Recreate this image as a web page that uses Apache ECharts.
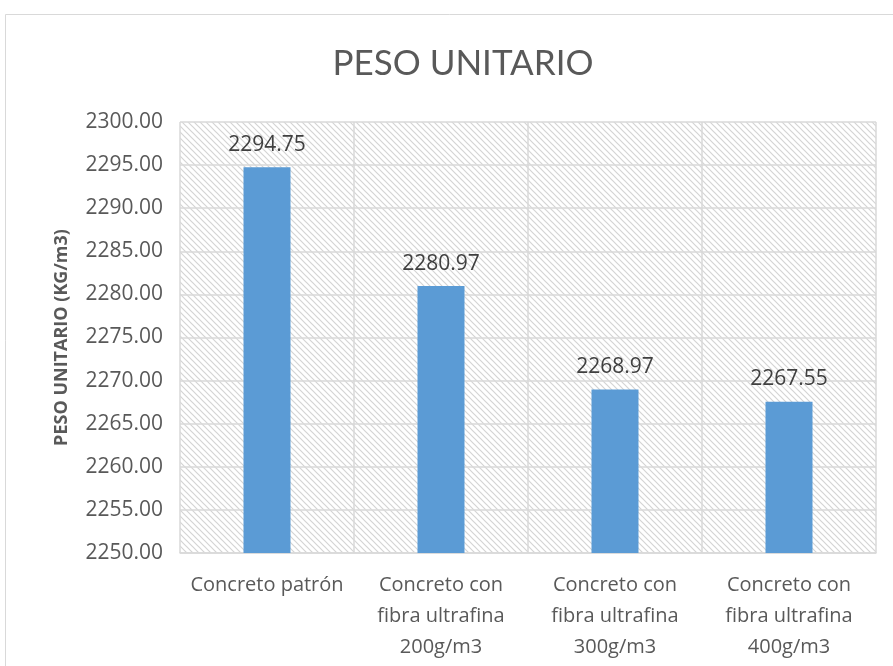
<!DOCTYPE html>
<html><head><meta charset="utf-8">
<script src="https://cdn.jsdelivr.net/npm/echarts@6/dist/echarts.min.js"></script>
<style>html,body{margin:0;padding:0;background:#fff}#c{width:893px;height:666px}</style>
</head><body><div id="c"></div>
<script>
const categories = ['Concreto patrón', 'Concreto con\nfibra ultrafina\n200g/m3', 'Concreto con\nfibra ultrafina\n300g/m3', 'Concreto con\nfibra ultrafina\n400g/m3'];
const values = [2294.75, 2280.97, 2268.97, 2267.55];
const yMin = 2250, yMax = 2300, yStep = 5;

const pc = document.createElement('canvas');
pc.width = 6; pc.height = 6;
const g = pc.getContext('2d');
g.fillStyle = '#ffffff'; g.fillRect(0,0,6,6);
g.strokeStyle = '#d4d4d4'; g.lineWidth = 1.2;
g.beginPath();
g.moveTo(-1,-1); g.lineTo(7,7);
g.moveTo(-4,2); g.lineTo(4,10);
g.moveTo(2,-4); g.lineTo(10,4);
g.stroke();

const chart = echarts.init(document.getElementById('c'));
chart.setOption({
  animation: false,
  backgroundColor: '#fff',
  graphic: [{type:'rect', shape:{x:5.5,y:14.5,width:900,height:700}, style:{fill:'none', stroke:'#d9d9d9', lineWidth:1}, z:-1}],
  title: {text:'PESO UNITARIO', left:458, textAlign:'center', top:41,
    textStyle:{fontFamily:'Lato', fontWeight:400, fontSize:35, color:'#595959'}},
  grid: {left:180, right:17, top:122, bottom:113, show:true, backgroundColor:{image:pc, repeat:'repeat'}, borderWidth:0},
  xAxis: {type:'category', data:categories,
    axisLine:{lineStyle:{color:'#d9d9d9', width:1.5}}, axisTick:{show:false},
    splitLine:{show:true, lineStyle:{color:'#d9d9d9', width:1.5}},
    axisLabel:{fontFamily:'Open Sans', fontSize:20, color:'#595959', lineHeight:31, margin:17, interval:0}},
  yAxis: {type:'value', min:yMin, max:yMax, interval:yStep,
    name:'PESO UNITARIO (KG/m3)', nameLocation:'middle', nameGap:109,
    nameTextStyle:{fontFamily:'Open Sans', fontWeight:'bold', fontSize:18, color:'#595959'},
    axisLine:{show:false}, axisTick:{show:false},
    splitLine:{lineStyle:{color:'#d9d9d9', width:1.5}},
    axisLabel:{formatter:v=>v.toFixed(2), fontFamily:'Open Sans', fontSize:21, color:'#595959', margin:17}},
  series: [{type:'bar', data:values, barWidth:47, itemStyle:{color:'#5b9bd5'},
    label:{show:true, position:'top', distance:12, formatter:p=>p.value.toFixed(2), fontFamily:'Open Sans', fontSize:21, color:'#404040'}}]
});
</script></body></html>
